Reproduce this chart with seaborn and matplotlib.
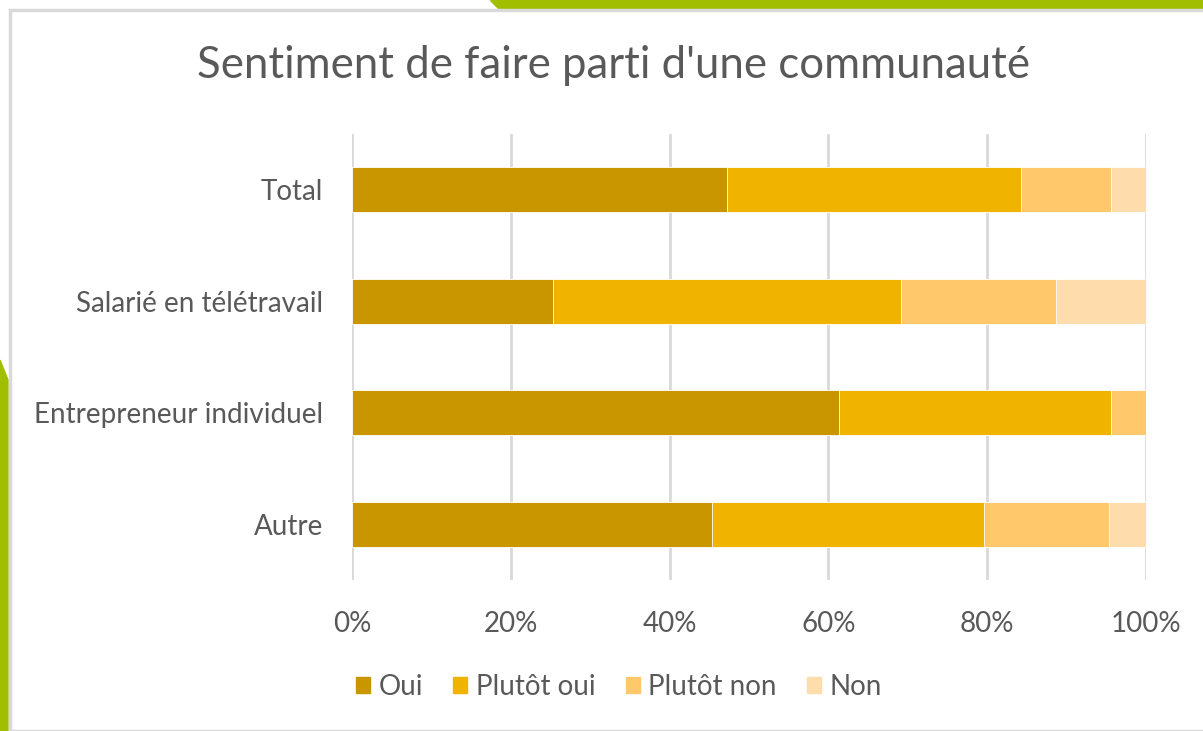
"""Sentiment de faire parti d'une communauté - stacked horizontal bars"""
import numpy as np
import pandas as pd
import seaborn as sns
from matplotlib import pyplot as plt
from matplotlib.patches import Rectangle, Polygon


# ----
# Data
# ----
categories = ["Total", "Salarié en télétravail", "Entrepreneur individuel", "Autre"]
series_names = ["Oui", "Plutôt oui", "Plutôt non", "Non"]
oui = [47.2, 25.3, 61.3, 45.3]
plutot_oui = [37.1, 43.8, 34.3, 34.3]
plutot_non = [11.3, 19.6, 4.4, 15.8]
non = [4.4, 11.3, 0.0, 4.6]
colors = ["#C99600", "#F0B400", "#FFC86A", "#FFDCAB"]
tick_values = [0, 20, 40, 60, 80, 100]
tick_labels = ["0%", "20%", "40%", "60%", "80%", "100%"]

sns.set_theme(style="white")
plt.rcParams["font.family"] = ["Lato", "DejaVu Sans"]
text_color = "#595959"

fig = plt.figure(figsize=(12.03, 7.31), dpi=100)
fig.patch.set_facecolor("white")

# slide decorations (green bands and grey chart frame)
fig.add_artist(Polygon([(490 / 1203, 1), (1, 1), (1, 1 - 8 / 731), (498 / 1203, 1 - 8 / 731)],
                       closed=True, transform=fig.transFigure, color="#A2BE00", zorder=0))
fig.add_artist(Polygon([(0, 0), (8 / 1203, 0), (8 / 1203, 1 - 380 / 731), (0, 1 - 360 / 731)],
                       closed=True, transform=fig.transFigure, color="#A2BE00", zorder=0))
fig.add_artist(Rectangle((10 / 1203, 0), 1, 1 - 10 / 731, transform=fig.transFigure,
                         facecolor="white", edgecolor="#D9D9D9", linewidth=2.5, zorder=0))

ax = fig.add_axes([352 / 1203, 1 - 580 / 731, 794 / 1203, 446 / 731])
ax.set_facecolor("none")

df = pd.DataFrame({"categorie": categories, "Oui": oui, "Plutôt oui": plutot_oui,
                   "Plutôt non": plutot_non, "Non": non})
cum = df[series_names].cumsum(axis=1)

# draw cumulative totals from longest to shortest so segments stack
for name, color in reversed(list(zip(series_names, colors))):
    sns.barplot(x=cum[name], y=df["categorie"], color=color, width=0.4,
                saturation=1, ax=ax, orient="h", zorder=3,
                edgecolor="white", linewidth=0.6)

ax.set_xlim(0, 100)
ax.set_xticks(tick_values)
ax.set_xticklabels(tick_labels)
ax.xaxis.grid(True, color="#D9D9D9", linewidth=2)
ax.yaxis.grid(False)
ax.set_axisbelow(True)
for side in ["top", "right", "bottom", "left"]:
    ax.spines[side].set_visible(False)
ax.set_xlabel("")
ax.set_ylabel("")
ax.tick_params(axis="x", colors=text_color, labelsize=20, length=0, pad=22)
ax.tick_params(axis="y", colors=text_color, labelsize=20, length=0, pad=21)

fig.text(0.51, 1 - 66 / 731, "Sentiment de faire parti d'une communauté",
         ha="center", va="center", fontsize=31.5, color=text_color)

handles = [Rectangle((0, 0), 1, 1, color=c) for c in colors]
fig.legend(handles, series_names, loc="center", bbox_to_anchor=(0.5145, 1 - 687 / 731),
           ncol=4, frameon=False, fontsize=20, labelcolor=text_color,
           handlelength=0.5, handleheight=0.5, handletextpad=0.3, columnspacing=1.1)

fig.savefig("out.png", dpi=100, facecolor="white")
